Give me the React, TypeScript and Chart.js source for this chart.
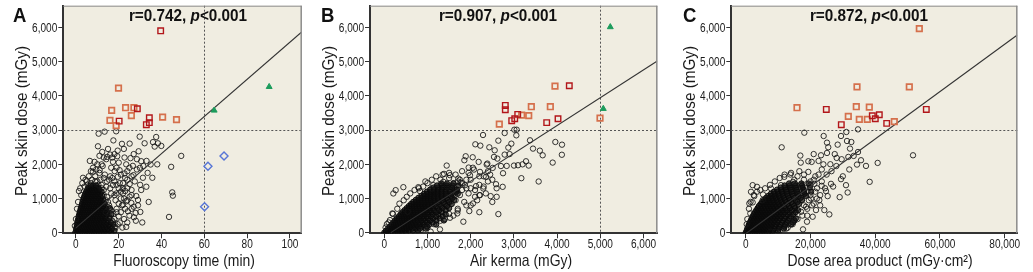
import React, { useEffect, useRef } from "react";
import { Chart, registerables } from "chart.js";
Chart.register(...registerables);

const FONT = "'Liberation Sans', Arial, sans-serif";
const BG = "#F0EDE1";

// ---------- shared axis values ----------
const yTicks = [0, 1000, 2000, 3000, 4000, 5000, 6000];
const yMin = -17;
const yMax = 6640;
const doseThreshold = 3000;
const yTitle = "Peak skin dose (mGy)";

// ---------- Panel A : Fluoroscopy time (min) vs peak skin dose (mGy) ----------
const aXTicks = [0, 20, 40, 60, 80, 100];
const aCoreRows: [number, number[]][] = [
  [0, [-0.3, 0.8, 1.9, 3, 4.1, 5.2, 6.3, 7.4, 8.5, 9.6, 10.8, 12, 13.3, 14.8, 16.5]],
  [60, [0.2, 1.3, 2.4, 3.5, 4.6, 5.7, 6.8, 7.9, 9, 10.2, 11.4, 12.7, 14, 15.6, 18]],
  [120, [0.1, 1, 2.1, 3.2, 4.3, 5.4, 6.5, 7.6, 8.7, 9.8, 11, 12.3, 13.6, 15, 16.8]],
  [180, [0.5, 1.5, 2.6, 3.7, 4.8, 5.9, 7, 8.1, 9.2, 10.4, 11.6, 12.9, 14.3, 16]],
  [240, [0.4, 1.3, 2.3, 3.4, 4.5, 5.6, 6.7, 7.8, 8.9, 10, 11.2, 12.5, 13.9, 15.5, 17.5]],
  [300, [0.8, 1.8, 2.8, 3.9, 5, 6.1, 7.2, 8.3, 9.4, 10.6, 11.8, 13.1, 14.6, 16.3]],
  [360, [0.9, 1.9, 2.9, 4, 5.1, 6.2, 7.3, 8.4, 9.5, 10.7, 11.9, 13.2, 14.8]],
  [420, [1.2, 2.3, 3.4, 4.5, 5.6, 6.7, 7.8, 8.9, 10, 11.2, 12.5, 13.9, 15.6]],
  [480, [1.3, 2.3, 3.3, 4.4, 5.5, 6.6, 7.7, 8.8, 9.9, 11.1, 12.3, 13.7]],
  [540, [1.6, 2.7, 3.8, 4.9, 6, 7.1, 8.2, 9.3, 10.4, 11.6, 12.9, 14.4, 16.5]],
  [600, [1.8, 2.8, 3.8, 4.9, 6, 7.1, 8.2, 9.3, 10.5, 11.7, 13, 14.5]],
  [660, [2.1, 3.2, 4.3, 5.4, 6.5, 7.6, 8.7, 9.8, 11, 12.3, 13.8]],
  [720, [2.3, 3.3, 4.4, 5.5, 6.6, 7.7, 8.8, 9.9, 11.1, 12.4, 14, 15.8]],
  [780, [2.6, 3.7, 4.8, 5.9, 7, 8.1, 9.2, 10.3, 11.5, 12.8]],
  [840, [2.9, 3.9, 5, 6.1, 7.2, 8.3, 9.4, 10.6, 11.9, 13.4]],
  [900, [3.1, 4.2, 5.3, 6.4, 7.5, 8.6, 9.7, 10.9, 12.2]],
  [960, [3.4, 4.5, 5.6, 6.7, 7.8, 8.9, 10, 11.3, 12.8]],
  [1020, [3.7, 4.8, 5.9, 7, 8.1, 9.2, 10.4, 11.7]],
  [1080, [4, 5.1, 6.2, 7.3, 8.4, 9.5, 10.8, 12.3]],
  [1140, [4.4, 5.5, 6.6, 7.7, 8.8, 10, 11.3]],
  [1200, [4.8, 5.9, 7, 8.1, 9.2, 10.5, 12]],
  [1260, [5.3, 6.4, 7.5, 8.6, 9.8, 11]],
  [1320, [5.9, 7, 8.1, 9.3, 10.6]],
  [1380, [6.8, 8, 9.4]],
];
const aScatter = [
  10.6, 2897, 13.4, 2956, 18.8, 2966, 29.8, 2810, 37.5, 2800, 38.3, 2616, 39.9, 2538, 10.3, 2528,
  22.4, 2450, 25.1, 2606, 29.3, 2382, 32.1, 2616, 36.8, 2519, 12.3, 2363, 16.0, 2286, 14.6, 2218,
  14.2, 2150, 19.3, 2238, 22.7, 2199, 25.5, 2180, 30.5, 2092, 34.9, 1995, 49.2, 2247, 44.5, 1927,
  26.6, 1956, 17.3, 2072, 20.4, 1830, 22.7, 1733, 26.9, 1684, 31.3, 1607, 35.7, 1607, 32.9, 1345,
  29.9, 1898, 25.1, 1423, 28.2, 1073, 29.0, 957, 45.0, 1180, 45.3, 1083, 43.5, 462, 27.1, 452,
  30.1, 608, 27.9, 578, 23.5, 170, 21.7, 150, 18.1, 170, 24.3, 627, 25.9, 870, 23.5, 918,
  21.9, 1297, 19.6, 1636, 18.1, 1801, 25.1, 1054, 17.3, 1394, 14.2, 1345, 11.1, 1830, 8.7, 2072,
  7.9, 1782, 3.3, 1607, 1.4, 1218, 5, 1500, 9, 1650, 12.5, 1950, 13.5, 1700, 15.5, 1550,
  16.5, 1900, 19, 1150, 20.5, 1450, 21, 1000, 22, 820, 23, 1220, 24, 1550, 19, 700,
  20, 480, 17, 350, 18.5, 950, 16.5, 1150, 26, 1250, 27.5, 1500, 28.5, 2150, 33.5, 1750,
  30.5, 1250, 34, 900, 31, 300, 24, 300, 21, 1700, 23.5, 2000, 19.5, 2400, 21.5, 2600,
  27, 2300, 33, 2100, 36, 2650, 38, 2000, 27, 760, 22.5, 400, 15, 2450, 17.5, 2700,
  11.5, 1550, 7, 1450, 4, 1350, 2.5, 1100, 6, 1650, 28.5, 1850, 31.5, 1950, 24, 1800,
  12, 1400, 13, 1250, 14.5, 1050, 15, 900, 16, 700, 17.5, 550, 18, 400, 19.5, 250,
  20, 850, 14, 600, 15.5, 450, 13, 1600, 11, 1750, 10, 1500, 9.5, 1850, 12, 2000,
  16, 1650, 18, 1500, 20, 1300, 22, 1150, 24, 950, 26, 700, 21, 600, 19, 1900,
  17, 2200, 23, 1600, 25, 1900, 8, 1900, 6.5, 2100, 11, 2250,
  0.5, 700, 0, 400, -0.5, 200, 1, 900, 2, 1300, 3, 1450, 4.5, 1550, 5.5, 1400,
  7.5, 1550, 9, 1500, 10.5, 1400, 12, 1300, 13, 1100, 14, 950, 15.5, 800, 16.5, 650,
  17.5, 300, 18.5, 150, 19, 600, 20.5, 300, 21.5, 800, 22.5, 1000, 18, 1100, 16, 1300,
  14.5, 1500, 17, 1600, 19, 1400, 21, 1200, 23, 700, 25, 500, 26, 1100, 28, 350,
  29, 800, 30, 1400, 24, 1300, 22, 1450, 26, 1650, 20, 2050, 18, 2300, 13, 2200,
  10, 2000, 7, 1800,
];
const aOrange = [19.9, 4227, 16.7, 3577, 23.2, 3656, 27.1, 3656, 25.9, 3423, 15.9, 3286, 18.8, 3131, 40.5, 3382, 47.0, 3306];
const aDarkRed = [39.6, 5905, 28.7, 3627, 20.2, 3265, 34.3, 3364, 34.3, 3219, 32.9, 3160];
const aGreen = [64.6, 3577, 90.3, 4268];
const aBlue = [69.2, 2245, 61.7, 1945, 60.1, 758];
const aRegX = [0, 105.5];
const aRegY = [140, 5870];

// ---------- Panel B : Air kerma (mGy) ----------
const bXTicks = [0, 1000, 2000, 3000, 4000, 5000, 6000];
const bCoreRows: [number, number[]][] = [
  [0, [0, 40, 90, 140, 200, 260, 330, 410, 500]],
  [60, [40, 90, 140, 190, 240, 300, 360, 420, 490, 570, 660, 780]],
  [120, [90, 140, 190, 240, 290, 340, 400, 460, 520, 580, 650, 730, 830, 960]],
  [180, [130, 180, 230, 280, 330, 390, 450, 510, 570, 630, 700, 780, 870, 990]],
  [240, [170, 220, 270, 320, 380, 440, 500, 560, 620, 680, 750, 830, 920, 1040, 1200]],
  [300, [210, 260, 310, 370, 430, 490, 550, 610, 670, 740, 810, 890, 990, 1120]],
  [360, [250, 300, 350, 410, 470, 530, 590, 650, 710, 780, 860, 950, 1060, 1200, 1380]],
  [420, [290, 340, 400, 460, 520, 580, 640, 700, 770, 840, 920, 1010, 1130, 1280]],
  [480, [340, 400, 460, 520, 580, 640, 700, 760, 830, 900, 980, 1080, 1200, 1350]],
  [540, [380, 440, 500, 560, 620, 680, 740, 800, 870, 940, 1020, 1120, 1250, 1420]],
  [600, [420, 480, 540, 600, 660, 720, 780, 850, 920, 1000, 1090, 1200, 1330]],
  [660, [470, 530, 590, 650, 710, 770, 840, 910, 980, 1060, 1150, 1270, 1420]],
  [720, [520, 580, 640, 700, 760, 830, 900, 970, 1050, 1130, 1230, 1350, 1500]],
  [780, [570, 630, 690, 750, 820, 890, 960, 1030, 1110, 1200, 1310, 1450]],
  [840, [620, 680, 740, 810, 880, 950, 1020, 1100, 1180, 1280, 1400, 1560]],
  [900, [670, 740, 810, 880, 950, 1020, 1090, 1170, 1260, 1370, 1500]],
  [960, [730, 800, 870, 940, 1010, 1080, 1160, 1250, 1350, 1470, 1620]],
  [1020, [790, 860, 930, 1000, 1070, 1150, 1240, 1340, 1450, 1580]],
  [1080, [860, 930, 1000, 1070, 1150, 1230, 1320, 1420, 1540]],
  [1140, [920, 1000, 1080, 1160, 1240, 1330, 1430, 1560, 1700]],
  [1200, [990, 1070, 1150, 1230, 1320, 1420, 1530, 1660]],
  [1260, [1060, 1150, 1240, 1330, 1430, 1540, 1680]],
  [1320, [1140, 1240, 1340, 1450, 1570]],
  [1380, [1220, 1330, 1450, 1580, 1720]],
  [1440, [1320, 1450, 1600]],
];
const bScatter = [
  2285, 2858, 2640, 2693, 2786, 2916, 3010, 3013, 3064, 3013, 3056, 2848, 2107, 2586, 2223, 2547,
  2431, 2498, 2555, 2411, 2539, 2217, 2871, 2489, 2941, 2605, 3373, 2703, 3442, 2460, 3666, 2265,
  3959, 2654, 3897, 2051, 2786, 2285, 2617, 2168, 2385, 2022, 2184, 2071, 2046, 2207, 1884, 2236,
  1853, 2120, 2076, 1847, 1953, 1906, 2215, 1779, 2354, 1634, 1984, 1682, 1444, 1964, 1382, 1721,
  1521, 1682, 1712, 1585, 1767, 1468, 1868, 1391, 2123, 1362, 2292, 1293, 2586, 1420, 2740, 1342,
  2462, 1070, 2601, 1050, 2215, 1099, 2053, 856, 1968, 633, 1690, 565, 1830, 322, 1289, 98,
  1073, 30, 2640, 545, 3002, 1964, 3095, 1974, 3280, 2090, 3342, 1964, 3172, 1595, 3573, 1498,
  2748, 1740, 2833, 1954, 2509, 1896, 2370, 1993, 441, 1332, 263, 1245, 209, 1148, 788, 1332,
  826, 1216, 1135, 1391, 1097, 1293, 1367, 1488, 186, 565, 541, 613, 1690, 1216, 1544, 914,
  1289, 856, 1521, 438, 132, 370, 4113, 2575, 4110, 2280,
  1800, 1450, 1900, 1300, 2000, 1550, 1850, 900, 1950, 1150, 2100, 1250, 2200, 1400, 2300, 1650,
  2400, 1800, 2500, 1550, 1500, 1600, 1650, 1700, 1800, 1800, 1950, 1750, 2050, 1900, 1600, 500,
  1400, 400, 1700, 650, 2000, 800, 2150, 950, 2350, 1150, 1200, 700, 950, 1500, 1300, 1550,
  1750, 1550, 2600, 1300, 2500, 900, 2200, 600, 2700, 1950, 2900, 2300, 3200, 2000, 3600, 2400,
  1750, 1100, 1650, 950, 1800, 1250, 1550, 1250, 1700, 1350, 1600, 1050,
  100, 300, 60, 250, 30, 150, 200, 550, 300, 700, 350, 850, 450, 950, 520, 1050,
  600, 1150, 700, 1250, 800, 1300, 900, 1350, 1000, 1450, 1100, 1550, 1200, 1650, 1350, 1700,
  1500, 1750, 1700, 1500, 1900, 1550, 2000, 1300, 2100, 1050, 1900, 800, 1700, 700, 1500, 550,
  1300, 350, 1150, 250, 1000, 150, 850, 80, 700, 40, 2200, 1100, 2300, 1350, 2400, 1500,
  2450, 1700, 2200, 1650, 1450, 1350, 1600, 1450,
];
const bOrange = [3951, 4286, 3403, 3685, 3843, 3685, 3180, 3440, 3343, 3423, 2662, 3178, 4993, 3353];
const bDarkRed = [4282, 4297, 2801, 3723, 2801, 3598, 3088, 3461, 3019, 3335, 2949, 3277, 4021, 3335, 3759, 3219];
const bGreen = [5231, 6017, 5069, 3627];
const bRegX = [150, 6319];
const bRegY = [3, 5020];

// ---------- Panel C : Dose area product (mGy·cm²) ----------
const cXTicks = [0, 20000, 40000, 60000, 80000];
const cCoreRows: [number, number[]][] = [
  [0, [0, 700, 1400, 2100, 2800, 3500, 4300, 5100, 6000, 7000, 8200]],
  [60, [300, 1000, 1700, 2400, 3100, 3800, 4600, 5400, 6300, 7300, 8500, 10000]],
  [120, [500, 1200, 1900, 2600, 3300, 4000, 4800, 5600, 6500, 7500, 8700, 10100, 11800]],
  [180, [800, 1500, 2200, 2900, 3600, 4400, 5200, 6000, 6900, 7900, 9000, 10300, 12000]],
  [240, [1000, 1700, 2400, 3100, 3900, 4700, 5500, 6300, 7200, 8200, 9300, 10600, 12200, 14000]],
  [300, [1300, 2000, 2700, 3500, 4300, 5100, 5900, 6800, 7700, 8700, 9800, 11100, 12700, 14600]],
  [360, [1600, 2300, 3000, 3800, 4600, 5400, 6200, 7100, 8000, 9000, 10100, 11400, 13000, 15000]],
  [420, [1900, 2600, 3400, 4200, 5000, 5800, 6700, 7600, 8500, 9500, 10600, 11900, 13500, 15500]],
  [480, [2200, 3000, 3800, 4600, 5400, 6200, 7100, 8000, 8900, 9900, 11000, 12300, 13900]],
  [540, [2500, 3300, 4100, 4900, 5700, 6600, 7500, 8400, 9400, 10400, 11600, 13000, 14700]],
  [600, [2900, 3700, 4500, 5300, 6100, 7000, 7900, 8800, 9800, 10900, 12100, 13600, 15400]],
  [660, [3300, 4100, 4900, 5700, 6600, 7500, 8400, 9400, 10400, 11500, 12800, 14300, 16200]],
  [720, [3700, 4500, 5300, 6200, 7100, 8000, 8900, 9900, 11000, 12200, 13600, 15200]],
  [780, [4100, 5000, 5900, 6800, 7700, 8600, 9600, 10700, 11900, 13300, 15000]],
  [840, [4600, 5500, 6400, 7300, 8200, 9200, 10300, 11500, 12900, 14500, 16400]],
  [900, [5100, 6000, 6900, 7800, 8800, 9900, 11100, 12500, 14100, 16000]],
  [960, [5700, 6600, 7500, 8500, 9600, 10800, 12100, 13600, 15400, 17400]],
  [1020, [6300, 7300, 8300, 9400, 10600, 11900, 13400, 15100, 17000]],
  [1080, [7000, 8000, 9100, 10300, 11600, 13000, 14600, 16400, 18600]],
  [1140, [7800, 8900, 10100, 11400, 12800, 14400, 16200, 18200]],
  [1200, [8700, 9900, 11200, 12600, 14200, 16000, 18000, 20200]],
  [1260, [9700, 11000, 12400, 14000, 15800, 17800]],
  [1320, [10800, 12200, 13800, 15600, 17600, 19800]],
  [1380, [12000, 13600, 15400, 17400]],
  [1440, [13400, 15200, 17200, 19400]],
];
const cScatter = [
  18110, 2926, 24082, 2829, 25111, 2634, 29436, 2829, 31083, 2946, 34687, 3023, 11109, 2498, 16875, 2256,
  19346, 2090, 20376, 2071, 23259, 2265, 25111, 2333, 26141, 2003, 28097, 2188, 29642, 2149, 28406, 2576,
  31289, 2683, 32215, 2460, 33348, 2246, 34378, 1993, 35614, 2120, 37158, 1954, 40762, 2042, 31701, 2217,
  38290, 1488, 29436, 1566, 30980, 1391, 31495, 1177, 29024, 1041, 26347, 1430, 23465, 1371, 24803, 1216,
  21199, 1430, 19346, 1779, 16566, 1799, 13786, 1702, 11933, 1634, 14610, 1488, 10903, 1391, 7814, 1293,
  5343, 1119, 2151, 1391, 1637, 1197, 2666, 1070, 2151, 886, 3490, 1342, 1122, 856, 1431, 565,
  5240, 953, 20170, 1002, 22744, 953, 25317, 1070, 25832, 535, 21714, 662, 18934, 322, 17699, 98,
  12962, 147, 7608, 30, 24288, 662, 20685, 467, 18625, 759, 17081, 613, 51680, 2265, 34690, 2361,
  32630, 2653,
  17000, 1400, 18500, 1300, 20000, 1500, 21500, 1650, 16000, 950, 17500, 1100, 19000, 1200, 22000, 1300,
  23500, 1500, 25000, 1700, 18000, 800, 20000, 1100, 21000, 850, 23000, 1100, 26500, 1800, 28000, 1950,
  24000, 2000, 18000, 1700, 15000, 1550, 22500, 2100, 27000, 1350, 30000, 1650, 32000, 1850, 19000, 500,
  15000, 350, 13000, 250, 17000, 2050, 21000, 2300, 25500, 2500, 27500, 2300,
  500, 400, 300, 250, 1000, 700, 1500, 900, 2500, 1100, 3500, 1200, 4500, 1250, 6000, 1300,
  7500, 1400, 9000, 1500, 10500, 1600, 12000, 1700, 14000, 1750, 16000, 1650, 18000, 1550, 20000, 1400,
  21500, 1200, 22000, 1000, 20500, 800, 19000, 700, 17500, 500, 16000, 400, 14500, 250, 12500, 120,
  10500, 60, 9000, 20, 21000, 1550, 22500, 1700, 23500, 1850, 24500, 1300, 23000, 800, 19500, 950,
];
const cOrange = [53626, 5968, 34378, 4268, 50533, 4268, 34163, 3685, 38178, 3673, 31691, 3402, 35089, 3315, 37560, 3315, 45900, 3248, 15845, 3656];
const cDarkRed = [24896, 3606, 55784, 3606, 39105, 3423, 41268, 3452, 40031, 3335, 29529, 3160, 43552, 3198];
const cRegX = [0, 83892];
const cRegY = [-30, 5784];

// ---------- helpers ----------
type Pt = { x: number; y: number };
const pairs = (a: number[]): Pt[] => {
  const r: Pt[] = [];
  for (let i = 0; i < a.length; i += 2) r.push({ x: a[i], y: a[i + 1] });
  return r;
};
const rows = (rs: [number, number[]][]): Pt[] => rs.flatMap(([y, xs]) => xs.map((x) => ({ x, y })));
const zip = (xs: number[], ys: number[]): Pt[] => xs.map((x, i) => ({ x, y: ys[i] }));

type Panel = {
  key: string; letter: string; letterX: number; rText: string; rCX: number;
  xTitle: string; xTitleCX: number; yTitleBase: number;
  canvasLeft: number; canvasWidth: number; padR: number; yAxisW: number;
  xMin: number; xMax: number; xTicks: number[];
  core: Pt[]; circles: Pt[]; orange: Pt[]; darkRed: Pt[]; green: Pt[]; blue: Pt[]; reg: Pt[]; vLine: number | null;
};

const panels: Panel[] = [
  {
    key: "A", letter: "A", letterX: 13, rText: "0.742", rCX: 188,
    xTitle: "Fluoroscopy time (min)", xTitleCX: 184, yTitleBase: 27,
    canvasLeft: 0, canvasWidth: 315, padR: 13.3, yAxisW: 63.3,
    xMin: -5.9, xMax: 105.5, xTicks: aXTicks,
    core: rows(aCoreRows), circles: pairs(aScatter), orange: pairs(aOrange), darkRed: pairs(aDarkRed),
    green: pairs(aGreen), blue: pairs(aBlue), reg: zip(aRegX, aRegY), vLine: 60,
  },
  {
    key: "B", letter: "B", letterX: 321, rText: "0.907", rCX: 498,
    xTitle: "Air kerma (mGy)", xTitleCX: 521, yTitleBase: 333.5,
    canvasLeft: 315, canvasWidth: 360, padR: 17.7, yAxisW: 55,
    xMin: -331, xMax: 6319, xTicks: bXTicks,
    core: rows(bCoreRows), circles: pairs(bScatter), orange: pairs(bOrange), darkRed: pairs(bDarkRed),
    green: pairs(bGreen), blue: [], reg: zip(bRegX, bRegY), vLine: 5000,
  },
  {
    key: "C", letter: "C", letterX: 683, rText: "0.872", rCX: 869,
    xTitle: "Dose area product (mGy\u00B7cm\u00B2)", xTitleCX: 880, yTitleBase: 695,
    canvasLeft: 675, canvasWidth: 358, padR: 15.7, yAxisW: 56.3,
    xMin: -4448, xMax: 83892, xTicks: cXTicks,
    core: rows(cCoreRows), circles: pairs(cScatter), orange: pairs(cOrange), darkRed: pairs(cDarkRed),
    green: [], blue: [], reg: zip(cRegX, cRegY), vLine: null,
  },
];

const fmt = (v: number) => Math.round(v).toLocaleString("en-US");

// condensed text: regular font squeezed horizontally
function text(ctx: any, s: string, x: number, y: number, font: string, align: string, sx: number, rot = 0) {
  ctx.save();
  ctx.translate(x, y);
  if (rot) ctx.rotate(rot);
  ctx.scale(sx, 1);
  ctx.font = font;
  ctx.textAlign = align;
  ctx.textBaseline = "alphabetic";
  ctx.fillText(s, 0, 0);
  ctx.restore();
}

function makeDeco(p: Panel) {
  return {
    id: "deco" + p.key,
    beforeDraw(chart: any) {
      const { ctx, chartArea: a } = chart;
      ctx.save();
      ctx.fillStyle = BG;
      ctx.fillRect(a.left, a.top, a.right - a.left, a.bottom - a.top);
      ctx.restore();
    },
    beforeDatasetsDraw(chart: any) {
      const { ctx, chartArea: a, scales } = chart;
      ctx.save();
      ctx.strokeStyle = "#555";
      ctx.lineWidth = 1;
      ctx.setLineDash([2, 2]);
      const yp = Math.round(scales.y.getPixelForValue(doseThreshold)) + 0.5;
      ctx.beginPath();
      ctx.moveTo(a.left, yp);
      ctx.lineTo(a.right, yp);
      ctx.stroke();
      if (p.vLine !== null) {
        const xp = Math.round(scales.x.getPixelForValue(p.vLine)) + 0.5;
        ctx.beginPath();
        ctx.moveTo(xp, a.top);
        ctx.lineTo(xp, a.bottom);
        ctx.stroke();
      }
      ctx.restore();
    },
    afterDraw(chart: any) {
      const { ctx, chartArea: a, scales } = chart;
      const off = p.canvasLeft;
      ctx.save();
      // top & right frame
      ctx.strokeStyle = "#8c8c8c";
      ctx.lineWidth = 1;
      ctx.beginPath();
      ctx.moveTo(a.left, a.top + 0.5);
      ctx.lineTo(a.right, a.top + 0.5);
      ctx.stroke();
      ctx.lineWidth = 1.5;
      ctx.beginPath();
      ctx.moveTo(a.right - 0.5, a.top);
      ctx.lineTo(a.right - 0.5, a.bottom);
      ctx.stroke();
      ctx.fillStyle = "#1a1a1a";
      // tick labels
      const tf = `12px ${FONT}`;
      for (const v of yTicks) {
        const yp = scales.y.getPixelForValue(v);
        text(ctx, fmt(v), a.left - 6, yp + 4.3, tf, "right", 0.84);
      }
      for (const v of p.xTicks) {
        const xp = scales.x.getPixelForValue(v);
        text(ctx, fmt(v), xp, 248, tf, "center", 0.84);
      }
      // axis titles
      const af = `16.6px ${FONT}`;
      text(ctx, p.xTitle, p.xTitleCX - off, 265.5, af, "center", 0.84);
      text(ctx, yTitle, p.yTitleBase - off, 121, af, "center", 0.92, -Math.PI / 2);
      // panel letter
      ctx.fillStyle = "#111";
      text(ctx, p.letter, p.letterX - off, 22, `bold 19.5px ${FONT}`, "left", 0.95);
      // r / p annotation
      const segs = [
        { t: `r=${p.rText}, `, f: `bold 17px ${FONT}` },
        { t: "p", f: `italic bold 17px ${FONT}` },
        { t: "<0.001", f: `bold 17px ${FONT}` },
      ];
      const sx = 0.9;
      let total = 0;
      for (const s of segs) {
        ctx.font = s.f;
        total += ctx.measureText(s.t).width * sx;
      }
      let x = p.rCX - off - total / 2;
      for (const s of segs) {
        ctx.font = s.f;
        const w = ctx.measureText(s.t).width * sx;
        text(ctx, s.t, x, 21, s.f, "left", sx);
        x += w;
      }
      ctx.restore();
    },
  };
}

function PanelChart({ p }: { p: Panel }) {
  const ref = useRef<HTMLCanvasElement | null>(null);
  useEffect(() => {
    if (!ref.current) return;
    const chart = new Chart(ref.current, {
      type: "scatter",
      data: {
        datasets: [
          { data: p.green, pointStyle: "triangle", pointRadius: 3.4, backgroundColor: "#1C9C5C", borderColor: "#1C9C5C", borderWidth: 1 },
          { data: p.blue, pointStyle: "rectRot", pointRadius: 4, backgroundColor: "rgba(0,0,0,0)", borderColor: "#5876D6", borderWidth: 1.4 },
          { data: p.darkRed, pointStyle: "rect", pointRadius: 3.9, backgroundColor: "rgba(0,0,0,0)", borderColor: "#B2161A", borderWidth: 1.4 },
          { data: p.orange, pointStyle: "rect", pointRadius: 3.9, backgroundColor: "rgba(0,0,0,0)", borderColor: "#D5704C", borderWidth: 1.7 },
          { type: "line", data: p.reg, borderColor: "#333", borderWidth: 1.1, pointRadius: 0, fill: false, tension: 0 },
          { data: p.circles, pointStyle: "circle", pointRadius: 2.7, backgroundColor: "rgba(0,0,0,0)", borderColor: "rgba(20,20,20,0.85)", borderWidth: 1 },
          { data: p.core, pointStyle: "circle", pointRadius: 2.7, backgroundColor: "rgba(15,15,15,0.7)", borderColor: "rgba(10,10,10,0.95)", borderWidth: 1 },
        ] as any,
      },
      options: {
        responsive: false,
        animation: false,
        events: [],
        layout: { padding: { left: 0, right: p.padR, top: 4, bottom: 0 } },
        plugins: { legend: { display: false }, tooltip: { enabled: false } },
        scales: {
          x: {
            type: "linear",
            min: p.xMin,
            max: p.xMax,
            afterFit: (s: any) => { s.height = 38.7; },
            afterBuildTicks: (s: any) => { s.ticks = p.xTicks.map((v) => ({ value: v })); },
            ticks: { display: false },
            grid: { display: true, drawOnChartArea: false, drawTicks: true, tickLength: 5, tickColor: "#333", tickWidth: 1 },
            border: { display: true, color: "#333", width: 2 },
          },
          y: {
            type: "linear",
            min: yMin,
            max: yMax,
            afterFit: (s: any) => { s.width = p.yAxisW; },
            afterBuildTicks: (s: any) => { s.ticks = yTicks.map((v) => ({ value: v })); },
            ticks: { display: false },
            grid: { display: true, drawOnChartArea: false, drawTicks: true, tickLength: 5, tickColor: "#333", tickWidth: 1 },
            border: { display: true, color: "#333", width: 2 },
          },
        },
      },
      plugins: [makeDeco(p)],
    } as any);
    return () => chart.destroy();
  }, [p]);
  return (
    <canvas
      ref={ref}
      width={p.canvasWidth}
      height={272}
      style={{ position: "absolute", left: p.canvasLeft, top: 0, width: p.canvasWidth, height: 272 }}
    />
  );
}

export default function App() {
  return (
    <div style={{ position: "absolute", left: 0, top: 0, width: 1033, height: 272, background: "#fff", overflow: "hidden" }}>
      {panels.map((p) => (
        <PanelChart key={p.key} p={p} />
      ))}
    </div>
  );
}
